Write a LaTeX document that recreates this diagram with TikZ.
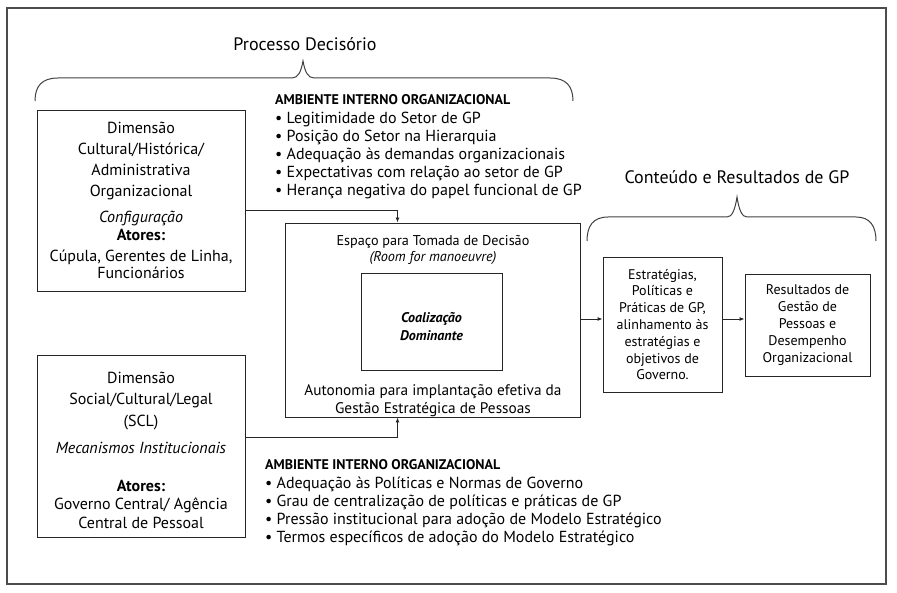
\documentclass[tikz,border=0pt]{standalone}
\usepackage{fontspec}
\setmainfont{PT Sans}
\usetikzlibrary{arrows.meta}
\tikzset{
  caixa/.style={draw=black!85, line width=0.9pt, align=center, inner sep=0pt},
  seta/.style={draw=black!85, line width=0.9pt, -{Latex[length=5pt,width=4pt]}},
  chave/.style={draw=black!75, line width=1pt},
  lista/.style={anchor=north west, align=left, inner sep=0pt, font=\fontsize{16}{17.8}\selectfont}
}
\newcommand{\amb}{{\fontsize{14}{14}\selectfont\bfseries AMBIENTE INTERNO ORGANIZACIONAL}}
\begin{document}
\begin{tikzpicture}[x=1pt,y=-1pt]
\useasboundingbox (0,0) rectangle (897,593);
\draw [line width=1.8pt, black!70] (7,8) rectangle (886,584);
\node (titproc) [anchor=base, font=\fontsize{18}{20}\selectfont] at (305,51) {Processo Decisório};
\draw [chave] (35,101) .. controls (35,86) and (42,78) .. (58,78) -- (292,78)
  .. controls (298,78) and (301,72) .. (303,61) .. controls (305,72) and (308,78) .. (314,78)
  -- (550,78) .. controls (566,78) and (573,86) .. (573,101);
\node (titcont) [anchor=base, font=\fontsize{18}{20}\selectfont] at (737,184) {Conteúdo e Resultados de GP};
\draw [chave] (587,241) .. controls (587,226) and (593,217) .. (608,217) -- (727,217)
  .. controls (732,217) and (735,210) .. (737,197) .. controls (739,210) and (742,217) .. (747,217)
  -- (856,217) .. controls (870,217) and (876,226) .. (876,241);
\node (cultural) [caixa, minimum width=208pt, minimum height=181pt, font=\fontsize{16}{21}\selectfont] at (141,200.5)
  {Dimensão\\Cultural/Histórica/\\Administrativa\\Organizacional\\[5pt]
   \textit{Configuração}\\[-3pt]\textbf{Atores:}\\Cúpula, Gerentes de Linha,\\[-4pt]Funcionários};
\node (social) [caixa, minimum width=208pt, minimum height=182pt] at (141,446) {};
\node (socialtxt) [align=center, inner sep=0pt, font=\fontsize{16}{21.5}\selectfont] at ([yshift=-4pt]social.center)
  {Dimensão\\Social/Cultural/Legal\\(SCL)\\[6pt]\textit{Mecanismos Institucionais}\\[16pt]
   \textbf{Atores:}\\[-3pt]Governo Central/ Agência\\[-3pt]Central de Pessoal};
\node (ambtop) [lista] at (275,94)
  {\amb\\[2pt] \textbullet{} Legitimidade do Setor de GP\\ \textbullet{} Posição do Setor na Hierarquia\\
   \textbullet{} Adequação às demandas organizacionais\\ \textbullet{} Expectativas com relação ao setor de GP\\
   \textbullet{} Herança negativa do papel funcional de GP};
\node (ambbot) [lista] at (265,459)
  {\amb\\[2pt] \textbullet{} Adequação às Políticas e Normas de Governo\\ \textbullet{} Grau de centralização de políticas e práticas de GP\\
   \textbullet{} Pressão institucional para adoção de Modelo Estratégico\\ \textbullet{} Termos específicos de adoção do Modelo Estratégico};
\node (espaco) [caixa, minimum width=295pt, minimum height=194pt] at (432.5,320) {};
\node (espacotxt) [align=center, inner sep=0pt, font=\fontsize{14.2}{16.5}\selectfont] at (433,250)
  {Espaço para Tomada de Decisão\\\textit{(Room for manoeuvre)}};
\node (coalizao) [caixa, minimum width=141pt, minimum height=97pt] at (431.5,321.5) {};
\node (coalizaotxt) [align=center, inner sep=0pt, font=\fontsize{14}{17.5}\selectfont\bfseries\itshape]
  at ([yshift=-5pt]coalizao.center) {Coalização\\Dominante};
\node (autonomia) [align=center, inner sep=0pt, font=\fontsize{15.3}{18}\selectfont] at (433,401)
  {Autonomia para implantação efetiva da\\Gestão Estratégica de Pessoas};
\node (estrategias) [caixa, minimum width=119pt, minimum height=135pt, font=\fontsize{14}{16.8}\selectfont] at (662.5,324.5)
  {Estratégias,\\Políticas e\\Práticas de GP,\\alinhamento às\\estratégias e\\objetivos de\\Governo.};
\node (resultados) [caixa, minimum width=125pt, minimum height=102pt, font=\fontsize{14}{16.8}\selectfont] at (807.5,325)
  {Resultados de\\Gestão de\\Pessoas e\\Desempenho\\Organizacional};
\draw [seta] ([yshift=-9.5pt]cultural.east) -| ([xshift=-35pt]espaco.north);
\draw [seta] ([yshift=8.5pt]social.east) -| ([xshift=-35pt]espaco.south);
\draw [seta] ([yshift=1pt]espaco.east) -- ([yshift=1pt]espaco.east -| estrategias.west);
\draw [seta] ([yshift=1pt]espaco.east -| estrategias.east) -- ([yshift=1pt]espaco.east -| resultados.west);
\end{tikzpicture}
\end{document}
